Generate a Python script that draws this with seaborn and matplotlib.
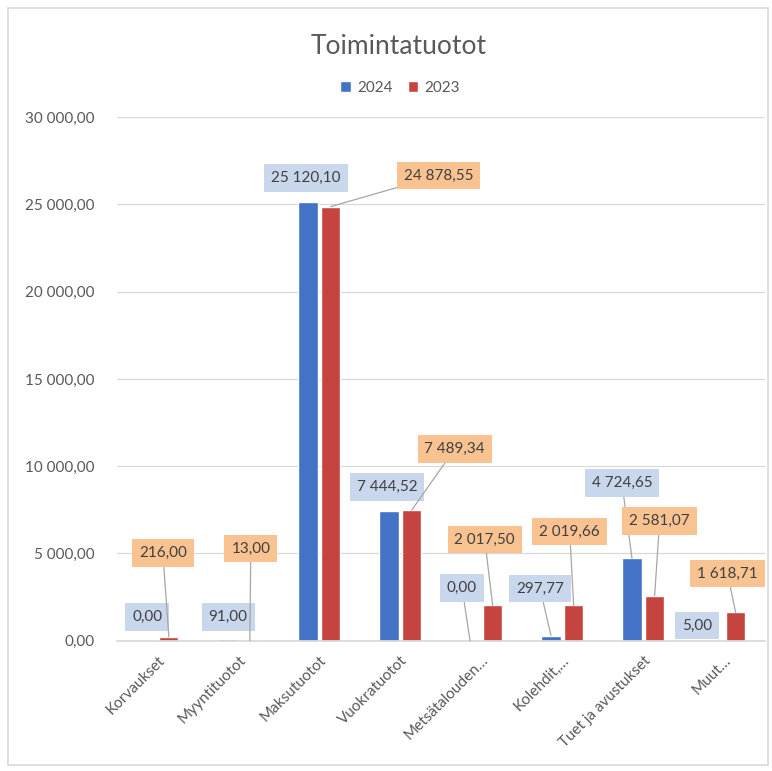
import pandas as pd
import matplotlib.pyplot as plt
import matplotlib.patches as mpatches
import seaborn as sns

# ── Data ────────────────────────────────────────────────────
kategoriat = ["Korvaukset", "Myyntituotot", "Maksutuotot", "Vuokratuotot",
              "Metsätalouden…", "Kolehdit,…", "Tuet ja avustukset", "Muut…"]
arvot_2024 = [0.00, 91.00, 25120.10, 7444.52, 0.00, 297.77, 4724.65, 5.00]
arvot_2023 = [216.00, 13.00, 24878.55, 7489.34, 2017.50, 2019.66, 2581.07, 1618.71]
vuodet = ["2024", "2023"]

df = pd.DataFrame({
    "kategoria": kategoriat * 2,
    "arvo": arvot_2024 + arvot_2023,
    "vuosi": ["2024"] * len(kategoriat) + ["2023"] * len(kategoriat),
})

# label offsets (pixels from bar top) and whether a leader line is drawn
offs_2024 = [(1, 24), (1, 22), (-2, 24), (-2, 24), (-8, 53), (-11, 47), (-10, 75), (-16, 15)]
lead_2024 = [False, False, False, False, True, True, True, False]
offs_2023 = [(-6, 84), (1, 92), (108, 31), (43, 61), (-8, 66), (-4, 74), (5, 75), (-8, 39)]
lead_2023 = [True, True, True, True, True, True, True, True]

# ── Style ──────────────────────────────────────────────────
sns.set_theme(style="white")
plt.rcParams['font.family'] = ['Lato', 'DejaVu Sans']
BLUE = "#4472C4"
RED = "#C5443F"
BOX_BLUE = "#C9D7EC"
BOX_ORANGE = "#F8C291"
TXT = "#404040"
GRAY = "#595959"
GRID = "#D9D9D9"

fig = plt.figure(figsize=(7.72, 7.71), dpi=100)
ax = fig.add_axes([0.1516, 0.169, 0.839, 0.679])

sns.barplot(data=df, x="kategoria", y="arvo", hue="vuosi", hue_order=vuodet,
            palette=[BLUE, RED], width=0.56, gap=0.15, ax=ax, saturation=1)

ax.set_ylim(0, 30000)
ax.set_xlim(-0.5, len(kategoriat) - 0.5)
ticks = list(range(0, 30001, 5000))
ax.set_yticks(ticks)
ax.set_yticklabels([f"{t:,.2f}".replace(",", " ").replace(".", ",") for t in ticks],
                   fontsize=11, color=GRAY)
ax.set_xticks(range(len(kategoriat)))
ax.set_xticklabels(kategoriat, rotation=45, ha='right', rotation_mode='anchor',
                   fontsize=11, color=GRAY)
ax.tick_params(axis='y', length=0, pad=16)
ax.tick_params(axis='x', length=0, pad=9)
ax.set_xlabel("")
ax.set_ylabel("")
ax.grid(axis='y', color=GRID, linewidth=0.9)
ax.set_axisbelow(True)
for s in ['top', 'right', 'left']:
    ax.spines[s].set_visible(False)
ax.spines['bottom'].set_color(GRID)

# ── Data labels ────────────────────────────────────────────
def fmt(v):
    return f"{v:,.2f}".replace(",", " ").replace(".", ",")

for cont, vals, offs, leads, fc in [
        (ax.containers[0], arvot_2024, offs_2024, lead_2024, BOX_BLUE),
        (ax.containers[1], arvot_2023, offs_2023, lead_2023, BOX_ORANGE)]:
    for rect, v, (dx, dy), lead in zip(cont.patches, vals, offs, leads):
        xy = (rect.get_x() + rect.get_width() / 2, rect.get_height())
        arrow = dict(arrowstyle='-', color='#A6A6A6', lw=0.9,
                     shrinkA=0, shrinkB=0) if lead else None
        ax.annotate(fmt(v), xy=xy, xytext=(dx, dy), textcoords='offset pixels',
                    ha='center', va='center', fontsize=11, color=TXT,
                    bbox=dict(boxstyle='square,pad=0.45', fc=fc, ec='none'),
                    arrowprops=arrow, annotation_clip=False)

# ── Legend & title ─────────────────────────────────────────
sns.move_legend(ax, 'center', bbox_to_anchor=(0.437, 1.056), ncol=2,
                frameon=False, title=None, fontsize=11, handlelength=0.7,
                handleheight=0.7, columnspacing=1.0, handletextpad=0.4)
for t in ax.get_legend().get_texts():
    t.set_color(GRAY)

fig.text(0.516, 0.940, "Toimintatuotot", ha='center', va='center',
         fontsize=19, color=GRAY)

fig.patches.append(mpatches.Rectangle((0.010, 0.008), 0.985, 0.982,
                                      transform=fig.transFigure, fill=False,
                                      edgecolor=GRID, linewidth=1.2))

fig.savefig("out.png", dpi=100, facecolor='white')
